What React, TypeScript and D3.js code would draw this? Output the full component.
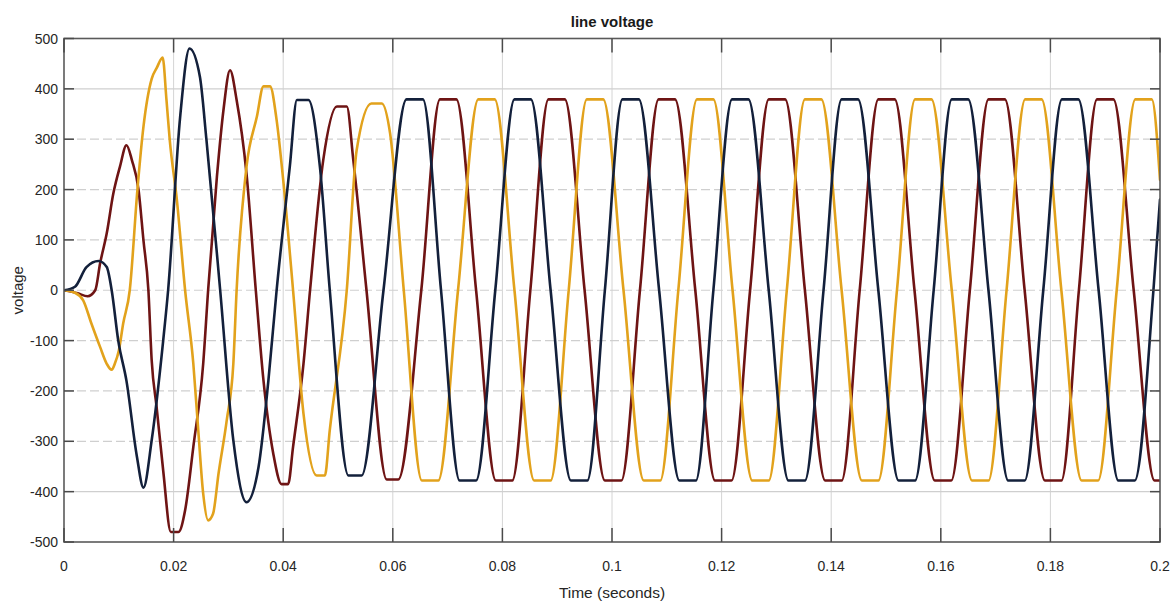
import React from "react";
import * as d3 from "d3";

// ---- data (time in s, voltage in V) ----
const xTicks = [0, 0.02, 0.04, 0.06, 0.08, 0.1, 0.12, 0.14, 0.16, 0.18, 0.2];
const xTickLabels = ["0", "0.02", "0.04", "0.06", "0.08", "0.1", "0.12", "0.14", "0.16", "0.18", "0.2"];
const yTicks = [-500, -400, -300, -200, -100, 0, 100, 200, 300, 400, 500];

const blueSeries: [number, number][] = [
  [0, 0], [0.002, 7], [0.0041, 46], [0.0063, 58], [0.0078, 46], [0.0087, 0], [0.0099, -100],
  [0.0114, -180], [0.0133, -330], [0.0145, -392], [0.016, -298], [0.0181, -100], [0.019, 0],
  [0.0212, 345], [0.0229, 480], [0.0248, 424], [0.026, 298], [0.0285, 0], [0.0309, -298],
  [0.0333, -421], [0.0355, -351], [0.0373, -179], [0.0388, 0], [0.0412, 245],
  [0.0425, 378], [0.0446, 378], [0.0467, 245], [0.0485, 0], [0.0519, -368], [0.0543, -368],
  [0.0583, 0],
  [0.0625, 379], [0.0655, 379], [0.0688, 0], [0.0722, -378], [0.0752, -378], [0.0787, 0],
  [0.0822, 379], [0.0852, 379], [0.0888, 0], [0.0925, -378], [0.0955, -378], [0.0987, 0],
  [0.1019, 379], [0.1049, 379], [0.1086, 0], [0.1123, -378], [0.1153, -378], [0.1185, 0],
  [0.1219, 379], [0.1249, 379], [0.1286, 0], [0.1322, -378], [0.1352, -378], [0.1386, 0],
  [0.1419, 379], [0.1449, 379], [0.1486, 0], [0.1523, -378], [0.1553, -378], [0.1587, 0],
  [0.162, 379], [0.165, 379], [0.1687, 0], [0.1723, -378], [0.1753, -378], [0.1787, 0],
  [0.1821, 379], [0.1851, 379], [0.1888, 0], [0.1924, -378], [0.1954, -378], [0.1988, 0],
  [0.2, 180],
];

const redSeries: [number, number][] = [
  [0, 0], [0.0025, -6], [0.0043, -12], [0.0057, 0], [0.0066, 54], [0.0078, 113], [0.009, 192],
  [0.0102, 245], [0.0114, 288], [0.0124, 258], [0.0136, 200], [0.0145, 99], [0.0154, 0],
  [0.016, -139], [0.0169, -232], [0.0181, -358], [0.0195, -480], [0.0209, -480],
  [0.0221, -437], [0.0236, -311], [0.0254, -146], [0.0263, 0], [0.0279, 225], [0.0291, 358],
  [0.0303, 437], [0.0315, 378], [0.0333, 232], [0.035, 0], [0.0364, -179], [0.0382, -325],
  [0.0397, -385], [0.0409, -385], [0.0418, -311], [0.0437, -146], [0.0449, 0], [0.0473, 258],
  [0.0498, 365], [0.0516, 365], [0.0528, 258], [0.0552, 0], [0.0589, -376], [0.061, -376],
  [0.0652, 0],
  [0.0686, 379], [0.0716, 379], [0.0752, 0], [0.0788, -378], [0.0818, -378], [0.0851, 0],
  [0.0884, 379], [0.0914, 379], [0.095, 0], [0.0987, -378], [0.1017, -378], [0.1051, 0],
  [0.1085, 379], [0.1115, 379], [0.1152, 0], [0.1188, -378], [0.1218, -378], [0.1252, 0],
  [0.1286, 379], [0.1316, 379], [0.1352, 0], [0.1389, -378], [0.1419, -378], [0.1452, 0],
  [0.1486, 379], [0.1516, 379], [0.1552, 0], [0.1589, -378], [0.1619, -378], [0.1653, 0],
  [0.1687, 379], [0.1717, 379], [0.1753, 0], [0.179, -378], [0.182, -378], [0.1852, 0],
  [0.1885, 379], [0.1915, 379], [0.1952, 0], [0.199, -378], [0.2, -378],
];

const yellowSeries: [number, number][] = [
  [0, 0], [0.002, -5], [0.0035, -20], [0.005, -66], [0.0066, -113], [0.0078, -146],
  [0.0087, -158], [0.0093, -145], [0.01, -120], [0.0108, -66], [0.012, 0], [0.0134, 200],
  [0.0145, 325], [0.016, 420], [0.0169, 441], [0.018, 462], [0.0187, 378], [0.0193, 298],
  [0.0206, 179], [0.0221, 0], [0.0236, -146], [0.0245, -278], [0.0254, -404], [0.0263, -457],
  [0.0272, -444], [0.0282, -364], [0.0297, -258], [0.0309, -146], [0.0315, 0], [0.0333, 245],
  [0.0352, 345], [0.0364, 405], [0.0376, 405], [0.0388, 338], [0.04, 219], [0.0418, 0],
  [0.0437, -245], [0.0461, -368], [0.0476, -368], [0.0485, -278], [0.0516, 0], [0.0534, 278],
  [0.0561, 371], [0.058, 371], [0.0595, 312], [0.062, 0],
  [0.0653, -378], [0.0683, -378], [0.0719, 0], [0.0756, 379], [0.0786, 379], [0.0822, 0],
  [0.0858, -378], [0.0888, -378], [0.0921, 0], [0.0954, 379], [0.0984, 379], [0.1021, 0],
  [0.1058, -378], [0.1088, -378], [0.1121, 0], [0.1155, 379], [0.1185, 379], [0.122, 0],
  [0.1256, -378], [0.1286, -378], [0.1319, 0], [0.1352, 379], [0.1382, 379], [0.1419, 0],
  [0.1456, -378], [0.1486, -378], [0.152, 0], [0.1553, 379], [0.1583, 379], [0.162, 0],
  [0.1657, -378], [0.1687, -378], [0.172, 0], [0.1754, 379], [0.1784, 379], [0.182, 0],
  [0.1857, -378], [0.1887, -378], [0.1921, 0], [0.1955, 379], [0.1985, 379], [0.2, 219],
];

const seriesList = [
  { name: "Vbc", data: redSeries, color: "#6e1414" },
  { name: "Vca", data: yellowSeries, color: "#e2a21c" },
  { name: "Vab", data: blueSeries, color: "#13203b" },
];

const W = 1171;
const H = 604;
const L = 64, R = 1160, T = 38.5, B = 542;
const FONT = "'Liberation Sans', Arial, Helvetica, sans-serif";

export default function App() {
  const x = d3.scaleLinear().domain([0, 0.2]).range([L, R]);
  const y = d3.scaleLinear().domain([-500, 500]).range([B, T]);
  const line = d3
    .line<[number, number]>()
    .x((d) => x(d[0]))
    .y((d) => y(d[1]))
    .curve(d3.curveMonotoneX);

  return (
    <svg
      width={W}
      height={H}
      viewBox={`0 0 ${W} ${H}`}
      style={{ position: "absolute", left: 0, top: 0, background: "#fff" }}
    >
      <defs>
        <clipPath id="plotClip">
          <rect x={L} y={T} width={R - L} height={B - T} />
        </clipPath>
      </defs>
      <rect x={0} y={0} width={W} height={H} fill="#fff" />

      {/* grid */}
      {xTicks.map((t, i) =>
        i > 0 && i < xTicks.length - 1 ? (
          <line key={"gx" + i} x1={x(t)} x2={x(t)} y1={T} y2={B} stroke="#d4d4d4" strokeWidth={1} />
        ) : null
      )}
      {yTicks.map((t, i) =>
        i > 0 && i < yTicks.length - 1 ? (
          <line
            key={"gy" + i}
            x1={L}
            x2={R}
            y1={y(t)}
            y2={y(t)}
            stroke="#cfcfcf"
            strokeWidth={1.2}
            strokeDasharray={Math.abs(t) === 400 ? undefined : "9,4"}
          />
        ) : null
      )}

      {/* series */}
      <g clipPath="url(#plotClip)" fill="none" strokeLinejoin="round" strokeLinecap="round">
        {seriesList.map((s) => (
          <path key={s.name} d={line(s.data) || ""} stroke={s.color} strokeWidth={2.6} />
        ))}
      </g>

      {/* frame */}
      <rect x={L} y={T} width={R - L} height={B - T} fill="none" stroke="#5a5a5a" strokeWidth={1.6} />

      {/* ticks */}
      {xTicks.map((t, i) => (
        <g key={"tx" + i} stroke="#4a4a4a" strokeWidth={1.5}>
          <line x1={x(t)} x2={x(t)} y1={B} y2={B - 14} />
          <line x1={x(t)} x2={x(t)} y1={T} y2={T + 14} />
        </g>
      ))}
      {yTicks.map((t, i) => (
        <g key={"ty" + i} stroke="#4a4a4a" strokeWidth={1.5}>
          <line x1={L} x2={L + 10} y1={y(t)} y2={y(t)} />
          <line x1={R} x2={R - 10} y1={y(t)} y2={y(t)} />
        </g>
      ))}

      {/* tick labels */}
      {xTicks.map((t, i) => (
        <text
          key={"lx" + i}
          x={x(t)}
          y={571}
          textAnchor="middle"
          fontFamily={FONT}
          fontSize={14}
          fill="#262626"
        >
          {xTickLabels[i]}
        </text>
      ))}
      {yTicks.map((t, i) => (
        <text
          key={"ly" + i}
          x={58}
          y={y(t) + 5}
          textAnchor="end"
          fontFamily={FONT}
          fontSize={14}
          fill="#262626"
        >
          {String(t)}
        </text>
      ))}

      {/* titles */}
      <text x={(L + R) / 2} y={27} textAnchor="middle" fontFamily={FONT} fontSize={15} fontWeight="bold" fill="#1a1a1a">
        line voltage
      </text>
      <text x={(L + R) / 2} y={598} textAnchor="middle" fontFamily={FONT} fontSize={15.5} fill="#262626">
        Time (seconds)
      </text>
      <text
        transform={`translate(23, ${(T + B) / 2}) rotate(-90)`}
        textAnchor="middle"
        fontFamily={FONT}
        fontSize={15}
        fill="#262626"
      >
        voltage
      </text>
    </svg>
  );
}
